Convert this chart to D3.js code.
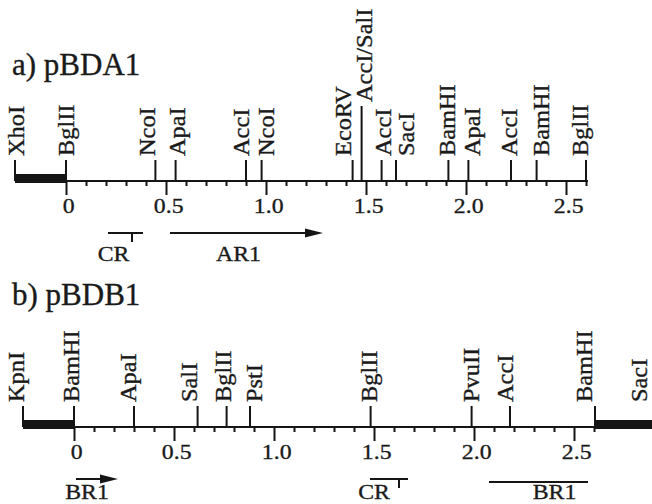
<!DOCTYPE html>
<html>
<head>
<meta charset="utf-8">
<script src="https://cdn.jsdelivr.net/npm/d3@7"></script>
<style>
  body { margin: 0; background: #fff; }
  text { font-family: "Liberation Serif", "Times New Roman", serif; fill: #1a1a1a; stroke: #1a1a1a; stroke-width: 0.35px; }
</style>
</head>
<body>
<script>
// Restriction sites (kb from the insert start)
const sitesA = ["XhoI", "BglII", "NcoI", "ApaI", "AccI", "NcoI", "EcoRV", "AccI/SalI", "AccI", "SacI", "BamHI", "ApaI", "AccI", "BamHI", "BglII"];
const posA = [-0.255, 0, 0.447, 0.548, 0.90, 0.978, 1.433, 1.478, 1.578, 1.65, 1.912, 2.012, 2.225, 2.353, 2.60];

const sitesB = ["KpnI", "BamHI", "ApaI", "SalI", "BglII", "PstI", "BglII", "PvuII", "AccI", "BamHI", "SacI"];
const posB = [-0.255, 0, 0.30, 0.618, 0.763, 0.88, 1.483, 1.988, 2.18, 2.605, 2.9];

// Vector segments (thick bars) and insert end
const vectorA = [[-0.255, 0]];
const vectorB = [[-0.255, 0], [2.605, 2.95]];
const insertEndA = 2.61;
const insertEndB = 2.605;

// Features below the map
const featNamesA = ["CR", "AR1"];
const featFromA = [0.21, 0.52];
const featToA = [0.385, 1.285];
const featKindA = ["promoter", "arrow"];
const featMarkA = [0.33, null];

const featNamesB = ["BR1", "CR", "BR1"];
const featFromB = [0.01, 1.48, 2.075];
const featToB = [0.22, 1.67, 2.57];
const featKindB = ["arrow", "promoter", "line"];
const featMarkB = [null, 1.625, null];

// Scale ticks
const majorTicks = [0, 0.5, 1.0, 1.5, 2.0, 2.5];
const majorLabels = ["0", "0.5", "1.0", "1.5", "2.0", "2.5"];
const minorTicks = d3.range(1, 27).map(i => i / 10).filter(v => Math.abs(v * 2 - Math.round(v * 2)) > 1e-6);

// Small label nudges (px), styling only
const siteNudgeA = [2, 1, -7, 2, -4, 5, -9, 3, 2, 11, 0, 5, -1, 5, -5];
const siteNudgeB = [-6, -2, -5, -8, -3, 5, -1, 0, -4, -10, -14];
const featNudgeA = [-12, -8];
const featNudgeB = [-10, -15, 16];

const svg = d3.select("body").append("svg")
    .attr("width", 652)
    .attr("height", 504);

const ink = "#151515";

function drawPanel(p) {
    const x = d3.scaleLinear().domain([0, 2.5]).range([p.x0, p.x0 + 500]);
    const g = svg.append("g");

    // title
    g.append("text")
        .attr("x", 12)
        .attr("y", p.titleY)
        .attr("font-size", 31)
        .text(p.title);

    // insert line
    g.append("line")
        .attr("x1", x(0)).attr("x2", x(p.end))
        .attr("y1", p.y).attr("y2", p.y)
        .attr("stroke", ink).attr("stroke-width", 2);

    // vector bars
    g.selectAll("rect.vec")
        .data(p.vector)
        .enter().append("rect")
        .attr("x", d => x(d[0]))
        .attr("width", d => x(d[1]) - x(d[0]))
        .attr("y", p.y - 7)
        .attr("height", 9)
        .attr("fill", ink);

    // minor scale ticks
    const minor = g.append("g")
        .attr("transform", `translate(0,${p.y})`)
        .call(d3.axisBottom(x).tickValues(minorTicks).tickSize(5).tickFormat(""));
    minor.select(".domain").remove();
    minor.selectAll("line").attr("stroke", ink).attr("stroke-width", 2);

    // major scale ticks + labels
    const major = g.append("g")
        .attr("transform", `translate(0,${p.y})`)
        .call(d3.axisBottom(x).tickValues(majorTicks).tickSize(14).tickPadding(2)
            .tickFormat((d, i) => majorLabels[i]));
    major.select(".domain").remove();
    major.selectAll("line").attr("stroke", ink).attr("stroke-width", 2);
    major.selectAll("text")
        .attr("font-size", 22)
        .attr("fill", ink)
        .attr("dx", 2)
        .attr("transform", "scale(1.08,1)");

    // restriction sites
    p.sites.forEach((name, i) => {
        const sx = x(p.pos[i]);
        const top = p.y - (p.longTicks.includes(i) ? 75 : 21);
        g.append("line")
            .attr("x1", sx).attr("x2", sx)
            .attr("y1", p.y).attr("y2", top)
            .attr("stroke", ink).attr("stroke-width", 2);
        g.append("text")
            .attr("transform", `translate(${sx + 7 + p.siteNudge[i]},${top - 4}) rotate(-90) scale(1.06,1)`)
            .attr("font-size", 23)
            .attr("text-anchor", "start")
            .text(name);
    });

    // features
    p.featNames.forEach((name, i) => {
        const x1 = x(p.featFrom[i]);
        const x2 = x(p.featTo[i]);
        const kind = p.featKind[i];
        const fy = p.y + (kind === "line" ? 55 : 52);
        if (kind === "arrow") {
            g.append("line")
                .attr("x1", x1).attr("x2", x2 - 10)
                .attr("y1", fy).attr("y2", fy)
                .attr("stroke", ink).attr("stroke-width", 2);
            g.append("path")
                .attr("d", `M${x2},${fy} L${x2 - 18},${fy - 4.5} L${x2 - 18},${fy + 4.5} Z`)
                .attr("fill", ink);
        } else {
            g.append("line")
                .attr("x1", x1).attr("x2", x2)
                .attr("y1", fy).attr("y2", fy)
                .attr("stroke", ink).attr("stroke-width", 2);
        }
        if (p.featMark[i] !== null) {
            const mx = x(p.featMark[i]);
            g.append("line")
                .attr("x1", mx).attr("x2", mx)
                .attr("y1", fy).attr("y2", fy + 9)
                .attr("stroke", ink).attr("stroke-width", 2);
        }
        const cx = (x1 + x2) / 2 + p.featNudge[i];
        g.append("text")
            .attr("transform", `translate(${cx},${p.y + p.featLabelDy}) scale(1.08,1)`)
            .attr("font-size", 22)
            .attr("text-anchor", "middle")
            .text(name);
    });
}

drawPanel({
    title: "a) pBDA1", titleY: 75, x0: 66, y: 181, end: insertEndA,
    vector: vectorA, sites: sitesA, pos: posA, siteNudge: siteNudgeA, longTicks: [7],
    featNames: featNamesA, featFrom: featFromA, featTo: featToA, featKind: featKindA,
    featMark: featMarkA, featNudge: featNudgeA, featLabelDy: 80
});

drawPanel({
    title: "b) pBDB1", titleY: 305, x0: 74, y: 427, end: insertEndB,
    vector: vectorB, sites: sitesB, pos: posB, siteNudge: siteNudgeB, longTicks: [],
    featNames: featNamesB, featFrom: featFromB, featTo: featToB, featKind: featKindB,
    featMark: featMarkB, featNudge: featNudgeB, featLabelDy: 72
});
</script>
</body>
</html>
